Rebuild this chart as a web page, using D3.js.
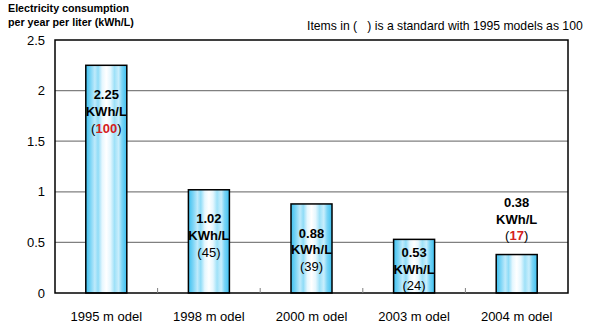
<!DOCTYPE html>
<html><head><meta charset="utf-8">
<script src="https://cdn.jsdelivr.net/npm/d3@7"></script>
<style>body{margin:0;background:#fff}svg{display:block;font-family:"Liberation Sans",Arial,sans-serif}</style>
</head><body><svg id="c" width="600" height="335"></svg>
<script>
const categories = ["1995 m odel","1998 m odel","2000 m odel","2003 m odel","2004 m odel"];
const values = [2.25, 1.02, 0.88, 0.53, 0.38];
const indexValues = [100, 45, 39, 24, 17];
const highlight = [true, false, false, false, true];
const yTicks = [0, 0.5, 1, 1.5, 2, 2.5];
const yTickLabels = ["0","0.5","1","1.5","2","2.5"];

const svg = d3.select("#c");
const L = 55, R = 568, T = 40, B = 293;
const x = d3.scaleBand().domain(categories).range([L, R]);
const y = d3.scaleLinear().domain([0, 2.5]).range([B, T]);

const defs = svg.append("defs");
const g = defs.append("linearGradient").attr("id","bg").attr("x1","0").attr("x2","1").attr("y1","0").attr("y2","0");
[[0,"#3cc0f0"],[0.12,"#7fd6f6"],[0.22,"#bfeafb"],[0.3,"#8fdcf7"],[0.4,"#e6f7fe"],[0.5,"#ffffff"],[0.6,"#e6f7fe"],[0.7,"#9ee1f8"],[0.8,"#c9eefc"],[0.88,"#7cd5f6"],[1,"#3cc0f0"]]
 .forEach(([o,c])=>g.append("stop").attr("offset",o).attr("stop-color",c));

// gridlines
svg.append("g").selectAll("line").data(yTicks.slice(1,-1)).join("line")
  .attr("x1",L).attr("x2",R).attr("y1",d=>y(d)).attr("y2",d=>y(d))
  .attr("stroke","#808080").attr("stroke-width",1.2);

// y axis labels
svg.append("g").selectAll("text").data(yTicks).join("text")
  .attr("x",L-10).attr("y",d=>y(d)+4.5).attr("text-anchor","end")
  .attr("font-size",13).attr("fill","#000").text((d,i)=>yTickLabels[i]);

// bars
const bw = 41;
svg.append("g").selectAll("rect").data(values).join("rect")
  .attr("x",(d,i)=>x(categories[i])+x.bandwidth()/2-bw/2)
  .attr("y",d=>y(d)).attr("width",bw).attr("height",d=>B-y(d))
  .attr("fill","url(#bg)").attr("stroke","#000").attr("stroke-width",1.5);

// frame
svg.append("rect").attr("x",L).attr("y",T).attr("width",R-L).attr("height",B-T)
  .attr("fill","none").attr("stroke","#000").attr("stroke-width",1.5);

// x ticks (inward) at band boundaries
svg.append("g").selectAll("line").data(categories.slice(1)).join("line")
  .attr("x1",d=>x(d)).attr("x2",d=>x(d)).attr("y1",B).attr("y2",B-5)
  .attr("stroke","#808080").attr("stroke-width",1);

// x labels
svg.append("g").selectAll("text").data(categories).join("text")
  .attr("x",d=>x(d)+x.bandwidth()/2).attr("y",321).attr("text-anchor","middle")
  .attr("font-size",13).attr("fill","#000").text(d=>d);

// value labels (middle line position)
const lh = 16.8;
values.forEach((v,i)=>{
  const cx = x(categories[i])+x.bandwidth()/2;
  const inside = v > 0.5;
  const mid = inside ? Math.min(y(v)+46, B-24) : y(v)-35.5;
  const base = mid + 4.5;
  svg.append("text").attr("x",cx).attr("y",base-lh).attr("text-anchor","middle")
    .attr("font-size",13).attr("font-weight","bold").text(v.toFixed(2));
  svg.append("text").attr("x",cx).attr("y",base).attr("text-anchor","middle")
    .attr("font-size",13).attr("font-weight","bold").text("KWh/L");
  const t = svg.append("text").attr("x",cx).attr("y",base+lh).attr("text-anchor","middle").attr("font-size",13);
  t.append("tspan").text("(");
  t.append("tspan").attr("fill",highlight[i]?"#d42020":"#000").attr("font-weight",highlight[i]?"bold":"normal").text(indexValues[i]);
  t.append("tspan").text(")");
});

// titles
svg.append("text").attr("x",8).attr("y",11.5).attr("font-size",10.7).attr("font-weight","bold").text("Electricity consumption");
svg.append("text").attr("x",8).attr("y",26).attr("font-size",10.7).attr("font-weight","bold").text("per year per liter (kWh/L)");
svg.append("text").attr("x",307).attr("y",30).attr("font-size",12.2).text("Items in (\u00a0\u00a0\u00a0) is a standard with 1995 models as 100");
</script></body></html>
